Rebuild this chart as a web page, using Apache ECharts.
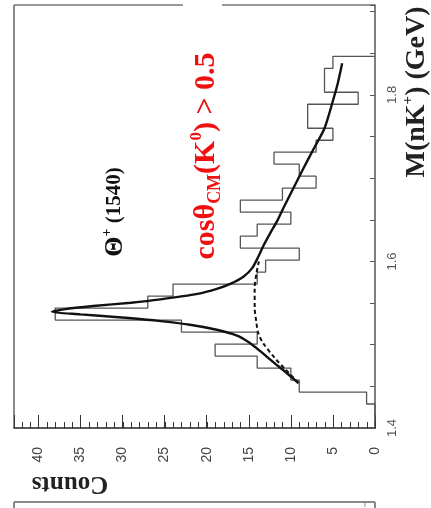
<!DOCTYPE html>
<html><head><meta charset="utf-8">
<script src="https://cdn.jsdelivr.net/npm/echarts@6/dist/echarts.min.js"></script>
<style>html,body{margin:0;padding:0;background:#fff}#c{width:431px;height:508px}</style>
</head><body><div id="c"></div>
<script>
// Histogram (mass bins, counts)
const binStart = 1.4;
const binWidth = 0.0144;
const histCounts = [0, 0, 1, 9, 10, 14, 19, 14, 23, 38, 27, 24, 14, 13, 9, 16, 14, 10, 16, 11, 7, 9, 12, 7, 5, 8, 8, 2, 6, 6, 5];
// Full fit (signal + background)
const fitMass   = [1.454, 1.467, 1.480, 1.492, 1.503, 1.511, 1.518, 1.524, 1.529, 1.533, 1.5365, 1.5395, 1.5425, 1.5465, 1.5505, 1.5545, 1.561, 1.567, 1.573, 1.582, 1.592, 1.605, 1.620, 1.635, 1.649, 1.664, 1.688, 1.712, 1.735, 1.760, 1.793, 1.815, 1.838];
const fitCounts = [9.1, 10.6, 12.2, 13.6, 15.0, 16.4, 18.8, 22.0, 26.0, 30.5, 35.0, 38.4, 37.0, 33.5, 29.0, 25.5, 21.1, 18.8, 17.2, 15.6, 14.6, 13.9, 13.2, 12.4, 11.6, 10.9, 9.7, 8.5, 7.3, 6.0, 5.0, 4.4, 3.9];
// Background only (dashed)
const bgMass   = [1.454, 1.470, 1.484, 1.502, 1.515, 1.527, 1.545, 1.568, 1.585, 1.600];
const bgCounts = [9.1, 10.6, 11.9, 13.3, 13.9, 14.1, 14.3, 14.3, 14.1, 13.8];
// Axis labels
const massLabels = ['1.4', '1.6', '1.8'];
const countLabels = ['0', '5', '10', '15', '20', '25', '30', '35', '40'];
const xMax = 42.9;
const minorTickValues = Array.from({length: Math.floor(xMax) + 1}, (_, i) => i);

const histData = [[0, binStart]];
histCounts.forEach((c, i) => {
  const m0 = binStart + i * binWidth;
  histData.push([c, m0], [c, m0 + binWidth]);
});
histData.push([0, binStart + histCounts.length * binWidth]);
const fitData = fitMass.map((m, i) => [fitCounts[i], m]);
const bgData = bgMass.map((m, i) => [bgCounts[i], m]);

const chart = echarts.init(document.getElementById('c'), null, {renderer: 'canvas'});
const serif = '"Liberation Serif", "DejaVu Serif", serif';
const sans = '"Liberation Sans", Arial, sans-serif';
chart.setOption({
  animation: false,
  backgroundColor: '#fff',
  grid: {left: 14, right: 56, top: 5, bottom: 80, outerBoundsMode: 'none', containLabel: false},
  xAxis: [{
    type: 'value', inverse: true, min: 0, max: xMax, interval: 5,
    position: 'bottom',
    axisLine: {show: true, onZero: false, lineStyle: {color: '#222', width: 1.5}},
    axisTick: {show: true, inside: true, length: 13, lineStyle: {color: '#333', width: 1}},
    splitLine: {show: false},
    axisLabel: {
      rotate: 90, margin: 19, fontSize: 14, color: '#444', fontFamily: sans,
      formatter: v => { const s = String(Math.round(v)); return countLabels.includes(s) ? s : ''; }
    }
  }],
  yAxis: {
    type: 'value', min: 1.4, max: 1.908, interval: 0.05,
    position: 'right',
    axisLine: {show: true, onZero: false, lineStyle: {color: '#555', width: 1.5}},
    axisTick: {show: true, inside: true, length: 5, lineStyle: {color: '#555', width: 1}},
    splitLine: {show: false},
    axisLabel: {
      rotate: 90, margin: 11, fontSize: 13, color: '#555', fontFamily: sans,
      formatter: v => { const s = (Math.round(v * 100) / 100).toString(); return massLabels.includes(s) ? s : ''; }
    }
  },
  series: [
    {type: 'line', data: histData, symbol: 'none', lineStyle: {color: '#555', width: 1.3}, z: 2},
    {type: 'line', data: bgData, symbol: 'none', smooth: 0.3, lineStyle: {color: '#111', width: 2, type: [4, 3]}, z: 3},
    {type: 'line', data: fitData, symbol: 'none', smooth: 0.25, lineStyle: {color: '#111', width: 2.4}, z: 4},
    {
      // minor axis ticks, one per count, placed through the axis scale
      type: 'custom', clip: false, silent: true, z: 5,
      data: minorTickValues.map(v => [v, binStart]),
      renderItem: (params, api) => {
        const p = api.coord([api.value(0), api.value(1)]);
        const x = Math.round(p[0]) + 0.5;
        return {type: 'line', shape: {x1: x, y1: p[1] + 0.5, x2: x, y2: p[1] - 6}, style: {stroke: '#333', lineWidth: 1}};
      }
    }
  ],
  graphic: [
    {type: 'line', shape: {x1: 14, y1: 5, x2: 183, y2: 5}, style: {stroke: '#777', lineWidth: 1.5}},
    {type: 'line', shape: {x1: 222, y1: 5, x2: 375, y2: 5}, style: {stroke: '#777', lineWidth: 1.5}},
    {type: 'line', shape: {x1: 14, y1: 5, x2: 14, y2: 428}, style: {stroke: '#666', lineWidth: 1.5}},
    {type: 'line', shape: {x1: 14, y1: 502, x2: 375, y2: 502}, style: {stroke: '#888', lineWidth: 2}},
    {type: 'line', shape: {x1: 14, y1: 502, x2: 14, y2: 508}, style: {stroke: '#888', lineWidth: 2}},
    {type: 'line', shape: {x1: 375, y1: 502, x2: 375, y2: 508}, style: {stroke: '#888', lineWidth: 2}},
    {type: 'line', shape: {x1: 365, y1: 502, x2: 365, y2: 507}, style: {stroke: '#888', lineWidth: 1}},
    {type: 'text', x: 70, y: 483, rotation: Math.PI,
     style: {text: 'Counts', fontSize: 25, fontWeight: 'bold', fontFamily: serif, fill: '#222', align: 'center', verticalAlign: 'middle'}},
    {type: 'text', x: 417, y: 92, rotation: Math.PI / 2,
     style: {text: '{a|M(nK}{s|+}{a|) (GeV)}', align: 'center', verticalAlign: 'middle', fill: '#222',
       rich: {
         a: {fontSize: 28, fontWeight: 'bold', fontFamily: serif, fill: '#222', lineHeight: 32, verticalAlign: 'middle'},
         s: {fontSize: 15, fontWeight: 'bold', fontFamily: serif, fill: '#222', lineHeight: 14, verticalAlign: 'top'}
       }}},
    {type: 'text', x: 115, y: 212, rotation: Math.PI / 2,
     style: {text: '{a|Θ}{s|+}{b| (1540)}', align: 'center', verticalAlign: 'middle', fill: '#111',
       rich: {
         a: {fontSize: 26, fontWeight: 'bold', fontFamily: serif, fill: '#111', lineHeight: 30, verticalAlign: 'middle'},
         s: {fontSize: 14, fontWeight: 'bold', fontFamily: serif, fill: '#111', lineHeight: 13, verticalAlign: 'top'},
         b: {fontSize: 21, fontWeight: 'bold', fontFamily: serif, fill: '#111', lineHeight: 26, verticalAlign: 'middle'}
       }}},
    {type: 'text', x: 206, y: 156, rotation: Math.PI / 2,
     style: {text: '{a|cosθ}{b|CM}{a|(K}{s|0}{a|) > 0.5}', align: 'center', verticalAlign: 'middle', fill: '#f00',
       rich: {
         a: {fontSize: 30, fontWeight: 'bold', fontFamily: serif, fill: '#f01010', lineHeight: 36, verticalAlign: 'middle'},
         b: {fontSize: 18, fontWeight: 'bold', fontFamily: serif, fill: '#f01010', lineHeight: 17, verticalAlign: 'bottom'},
         s: {fontSize: 17, fontWeight: 'bold', fontFamily: serif, fill: '#f01010', lineHeight: 16, verticalAlign: 'top'}
       }}}
  ]
});
</script>
</body></html>
